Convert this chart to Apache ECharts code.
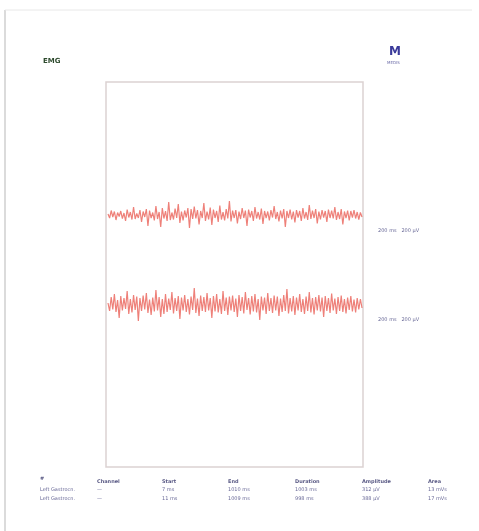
<!DOCTYPE html>
<html><head><meta charset="utf-8">
<script src="https://cdn.jsdelivr.net/npm/echarts@6/dist/echarts.min.js"></script>
<style>html,body{margin:0;padding:0;background:#fff}#c{width:479px;height:531px}</style>
</head><body><div id="c"></div>
<script>
const title = "EMG";
const scaleLabel = "200 ms   200 µV";
const channels = ["Left Gastrocn.", "Left Gastrocn."];
const tableHeaders = ["#", "Channel", "Start", "End", "Duration", "Amplitude", "Area"];
const tableRows = [
  ["Left Gastrocn.", "—", "7 ms", "1010 ms", "1003 ms", "312 µV", "13 mVs"],
  ["Left Gastrocn.", "—", "11 ms", "1009 ms", "998 ms", "388 µV", "17 mVs"]
];
const trace1 = [10,-30,45,-20,35,-50,25,-15,40,-35,20,-60,55,-25,30,-45,80,-40,15,-30,
50,-70,35,-20,60,-110,45,-30,25,-55,90,-40,30,-120,70,-35,40,-60,130,-50,
25,-45,65,-30,110,-80,35,-55,45,-25,70,-130,60,-40,85,-35,50,-95,40,-30,
120,-60,35,-45,75,-100,55,-30,40,-70,95,-45,30,-55,60,-35,140,-65,45,-30,
50,-85,35,-40,70,-30,45,-110,55,-25,40,-60,80,-35,30,-45,65,-90,40,-30,
35,-55,50,-25,90,-40,30,-65,45,-35,60,-120,40,-30,55,-45,35,-75,50,-25,
40,-60,70,-35,30,-50,100,-40,45,-30,60,-85,35,-45,50,-25,40,-70,55,-30,
45,-35,80,-50,30,-40,60,-95,35,-30,45,-55,40,-25,50,-35,30,-45,25,-20];
const trace2 = [20,-60,80,-45,110,-70,50,-130,90,-55,70,-40,140,-90,60,-75,100,-50,85,-160,
70,-60,95,-45,120,-80,55,-100,75,-65,150,-55,80,-120,60,-90,110,-70,65,-50,
130,-85,70,-60,90,-140,75,-55,100,-70,60,-95,85,-50,170,-80,65,-110,95,-60,
80,-70,120,-55,70,-130,90,-65,110,-75,60,-90,140,-60,75,-100,85,-55,95,-70,
65,-120,100,-60,80,-85,130,-50,70,-95,90,-65,110,-75,60,-150,85,-55,75,-90,
120,-60,70,-80,95,-55,85,-110,65,-70,100,-60,160,-85,70,-65,90,-100,75,-55,
110,-70,60,-90,85,-60,130,-75,70,-95,80,-55,100,-65,75,-120,90,-60,70,-80,
115,-55,65,-90,80,-60,95,-70,60,-85,75,-50,90,-65,55,-75,70,-45,60,-30];

const chart = echarts.init(document.getElementById('c'), null, {renderer:'canvas'});
const lineColor = '#e8564c';
const txtColor = '#6a6a98';
const colX = [40, 97, 162, 228, 295, 362, 428];
const graphics = [
  {type:'line', shape:{x1:5,y1:10,x2:5,y2:531}, style:{stroke:'#cfcfcf', lineWidth:1.5}},
  {type:'line', shape:{x1:5,y1:10,x2:472,y2:10}, style:{stroke:'#e8e8e8', lineWidth:1}},
  {type:'text', left:43, top:58, style:{text:title, fill:'#2d4a2d', font:'bold 7px "DejaVu Sans"'}},
  {type:'text', left:389, top:46, style:{text:'M', fill:'#3a3a9a', font:'bold 12px "DejaVu Sans"'}},
  {type:'text', left:387, top:61, style:{text:'MEDIS', fill:'#7070aa', font:'4px "DejaVu Sans"'}},
  {type:'text', left:378, top:228, style:{text:scaleLabel, fill:txtColor, font:'5px "DejaVu Sans"'}},
  {type:'text', left:378, top:317, style:{text:scaleLabel, fill:txtColor, font:'5px "DejaVu Sans"'}}
];
tableHeaders.forEach((h,i)=>graphics.push({type:'text', left:colX[i], top:i===0?476:479, style:{text:h, fill:'#5a5a85', font:'bold 5px "DejaVu Sans"'}}));
tableRows.forEach((r,ri)=>r.forEach((c,i)=>graphics.push({type:'text', left:colX[i], top:487+ri*9, style:{text:c, fill:txtColor, font:'5px "DejaVu Sans"'}})));

chart.setOption({
  animation:false,
  backgroundColor:'#fff',
  grid:[
    {left:106, top:82, width:257, height:385, show:true, borderColor:'#dcd2d2', borderWidth:1.5, backgroundColor:'transparent'},
    {left:108, top:175, width:254, height:80},
    {left:108, top:265, width:254, height:80}
  ],
  xAxis:[
    {gridIndex:0, type:'value', min:0, max:1, show:false},
    {gridIndex:1, type:'value', min:0, max:trace1.length-1, show:false},
    {gridIndex:2, type:'value', min:0, max:trace2.length-1, show:false}
  ],
  yAxis:[
    {gridIndex:0, type:'value', min:0, max:1, show:false},
    {gridIndex:1, type:'value', min:-400, max:400, show:false},
    {gridIndex:2, type:'value', min:-400, max:400, show:false}
  ],
  series:[
    {type:'line', name:channels[0], xAxisIndex:1, yAxisIndex:1, data:trace1.map((v,i)=>[i,v]), showSymbol:false, lineStyle:{color:lineColor, width:1.2, opacity:0.75}},
    {type:'line', name:channels[1], xAxisIndex:2, yAxisIndex:2, data:trace2.map((v,i)=>[i,v]), showSymbol:false, lineStyle:{color:lineColor, width:1.2, opacity:0.75}}
  ],
  graphic:graphics
});
</script></body></html>
